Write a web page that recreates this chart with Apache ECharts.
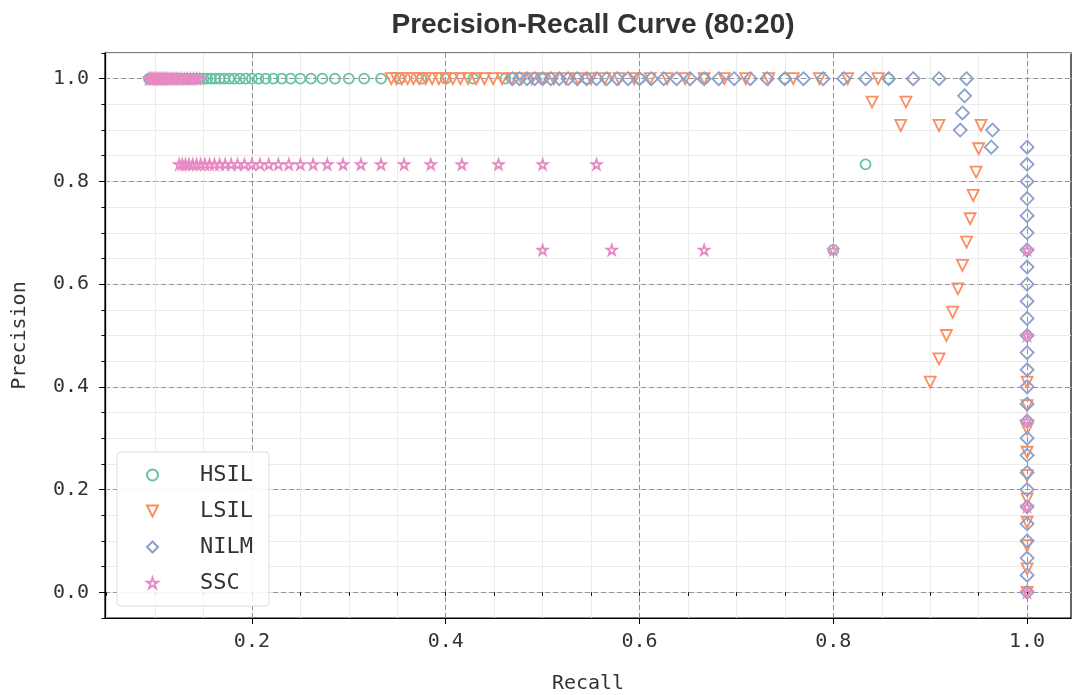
<!DOCTYPE html>
<html>
<head>
<meta charset="utf-8">
<title>Precision-Recall Curve (80:20)</title>
<script src="https://cdn.jsdelivr.net/npm/echarts@6/dist/echarts.min.js"></script>
<style>
  html, body { margin: 0; padding: 0; background: #ffffff; }
  #chart { width: 1083px; height: 695px; }
</style>
</head>
<body>
<div id="chart"></div>
<script>
// ---- class names and colours ----
const classNames = ['HSIL', 'LSIL', 'NILM', 'SSC'];
const classColors = ['#66c2a5', '#fc8d62', '#8da0cb', '#e78ac3'];

// ---- axis ticks ----
const xMajorTicks = [0.2, 0.4, 0.6, 0.8, 1.0];
const xMinorTicks = [0.05, 0.1, 0.15, 0.2, 0.25, 0.3, 0.35, 0.4, 0.45, 0.5, 0.55, 0.6, 0.65, 0.7, 0.75, 0.8, 0.85, 0.9, 0.95, 1.0];
const yMajorTicks = [0.0, 0.2, 0.4, 0.6, 0.8, 1.0];
const yMinorTicks = [-0.05, 0.0, 0.05, 0.1, 0.15, 0.2, 0.25, 0.3, 0.35, 0.4, 0.45, 0.5, 0.55, 0.6, 0.65, 0.7, 0.75, 0.8, 0.85, 0.9, 0.95, 1.0, 1.05];

// ---- HSIL ----
const hsilRecall = [
  0.8, 0.8333, 0.8571, 0.75, 0.6667, 0.6, 0.5455, 0.5, 0.4615, 0.4286, 0.4, 0.375,
  0.3529, 0.3333, 0.3158, 0.3, 0.2857, 0.2727, 0.2609, 0.25, 0.24, 0.2308, 0.2222,
  0.2143, 0.2069, 0.2, 0.1935, 0.1875, 0.1818, 0.1765, 0.1714, 0.1667, 0.1622, 0.1579,
  0.1538, 0.15, 0.1463, 0.1429, 0.1395, 0.1364, 0.1333, 0.1304, 0.1277, 0.125, 0.1224,
  0.12, 0.1176, 0.1154, 0.1132, 0.1111, 0.1091, 0.1071, 0.1053, 0.1034, 0.1017, 0.1,
  0.0984, 0.0968, 0.0952, 0.0938
];
const hsilPrecision = [
  0.6667, 0.8333, 1, 1, 1, 1, 1, 1, 1, 1, 1, 1,
  1, 1, 1, 1, 1, 1, 1, 1, 1, 1, 1,
  1, 1, 1, 1, 1, 1, 1, 1, 1, 1, 1,
  1, 1, 1, 1, 1, 1, 1, 1, 1, 1, 1,
  1, 1, 1, 1, 1, 1, 1, 1, 1, 1, 1,
  1, 1, 1, 1
];

// ---- LSIL ----
const lsilRecall = [
  1, 1, 1, 1, 1, 1, 1, 1, 1, 1,
  0.9, 0.9091, 0.9167, 0.9231, 0.9286, 0.9333, 0.9375, 0.9412, 0.9444, 0.9474, 0.95,
  0.9524, 0.9091, 0.8696, 0.875, 0.84,
  0.8462, 0.8148, 0.7857, 0.7586, 0.7333, 0.7097, 0.6875, 0.6667, 0.6471, 0.6286,
  0.6111, 0.5946, 0.5789, 0.5641, 0.55, 0.5366, 0.5238, 0.5116, 0.5, 0.4889, 0.4783,
  0.4681, 0.4583, 0.449, 0.44, 0.4314, 0.4231, 0.4151, 0.4074, 0.4, 0.3929, 0.386,
  0.3793, 0.3729, 0.3667, 0.3607, 0.3548, 0.3492, 0.3438
];
const lsilPrecision = [
  0, 0.0455, 0.0909, 0.1364, 0.1818, 0.2273, 0.2727, 0.3182, 0.3636, 0.4091,
  0.4091, 0.4545, 0.5, 0.5455, 0.5909, 0.6364, 0.6818, 0.7273, 0.7727, 0.8182, 0.8636,
  0.9091, 0.9091, 0.9091, 0.9545, 0.9545,
  1, 1, 1, 1, 1, 1, 1, 1, 1, 1,
  1, 1, 1, 1, 1, 1, 1, 1, 1, 1, 1,
  1, 1, 1, 1, 1, 1, 1, 1, 1, 1, 1,
  1, 1, 1, 1, 1, 1, 1
];

// ---- NILM ----
const nilmRecall = [
  1, 1, 1, 1, 1, 1, 1, 1, 1, 1, 1, 1, 1, 1, 1, 1, 1, 1, 1, 1, 1, 1, 1, 1, 1, 1, 1,
  0.963, 0.9643, 0.931, 0.9333, 0.9355, 0.9375,
  0.9091, 0.8824, 0.8571, 0.8333, 0.8108, 0.7895, 0.7692, 0.75, 0.7317, 0.7143,
  0.6977, 0.6818, 0.6667, 0.6522, 0.6383, 0.625, 0.6122, 0.6, 0.5882, 0.5769,
  0.566, 0.5556, 0.5455, 0.5357, 0.5263, 0.5172, 0.5085, 0.5, 0.4918, 0.4839,
  0.4762, 0.4688
];
const nilmPrecision = [
  0, 0.0333, 0.0667, 0.1, 0.1333, 0.1667, 0.2, 0.2333, 0.2667, 0.3, 0.3333, 0.3667,
  0.4, 0.4333, 0.4667, 0.5, 0.5333, 0.5667, 0.6, 0.6333, 0.6667, 0.7, 0.7333,
  0.7667, 0.8, 0.8333, 0.8667,
  0.8667, 0.9, 0.9, 0.9333, 0.9667, 1,
  1, 1, 1, 1, 1, 1, 1, 1, 1, 1,
  1, 1, 1, 1, 1, 1, 1, 1, 1, 1,
  1, 1, 1, 1, 1, 1, 1, 1, 1, 1,
  1, 1
];

// ---- SSC ----
const sscRecall = [
  1, 1, 1, 1, 1, 0.8, 0.6667, 0.5714, 0.5,
  0.5556, 0.5, 0.4545, 0.4167, 0.3846, 0.3571, 0.3333, 0.3125, 0.2941, 0.2778, 0.2632,
  0.25, 0.2381, 0.2273, 0.2174, 0.2083, 0.2, 0.1923, 0.1852, 0.1786, 0.1724, 0.1667,
  0.1613, 0.1563, 0.1515, 0.1471, 0.1429, 0.1389, 0.1351, 0.1316, 0.1282, 0.125,
  0.1463, 0.1429, 0.1395, 0.1364, 0.1333, 0.1304, 0.1277, 0.125, 0.1224, 0.12, 0.1176,
  0.1154, 0.1132, 0.1111, 0.1091, 0.1071, 0.1053, 0.1034, 0.1017, 0.1, 0.0984, 0.0968,
  0.0952, 0.0938
];
const sscPrecision = [
  0, 0.1667, 0.3333, 0.5, 0.6667, 0.6667, 0.6667, 0.6667, 0.6667,
  0.8333, 0.8333, 0.8333, 0.8333, 0.8333, 0.8333, 0.8333, 0.8333, 0.8333, 0.8333, 0.8333,
  0.8333, 0.8333, 0.8333, 0.8333, 0.8333, 0.8333, 0.8333, 0.8333, 0.8333, 0.8333, 0.8333,
  0.8333, 0.8333, 0.8333, 0.8333, 0.8333, 0.8333, 0.8333, 0.8333, 0.8333, 0.8333,
  1, 1, 1, 1, 1, 1, 1, 1, 1, 1, 1,
  1, 1, 1, 1, 1, 1, 1, 1, 1, 1, 1,
  1, 1
];

const recallSets = [hsilRecall, lsilRecall, nilmRecall, sscRecall];
const precisionSets = [hsilPrecision, lsilPrecision, nilmPrecision, sscPrecision];

// marker shapes: open circle, open down-triangle, open diamond, open star
const TRI_DOWN = 'path://M0,0L100,0L50,100Z';
const STAR = 'path://M50,0L61.23,34.55L97.55,34.55L68.17,55.9L79.39,90.45L50,69.1L20.61,90.45L31.83,55.9L2.45,34.55L38.77,34.55Z';
const markerSpecs = [
  { symbol: 'circle', size: 10 },
  { symbol: TRI_DOWN, size: 11 },
  { symbol: 'diamond', size: 13 },
  { symbol: STAR, size: 10 }
];

const MONO = "'DejaVu Sans Mono', 'Liberation Mono', monospace";
const X_MIN = 0.0484, X_MAX = 1.0453;
const Y_MIN = -0.05, Y_MAX = 1.05;

const chart = echarts.init(document.getElementById('chart'), null, { renderer: 'canvas' });

const series = classNames.map((name, k) => ({
  type: 'scatter',
  name: name,
  xAxisIndex: 1,
  yAxisIndex: 1,
  data: recallSets[k].map((r, i) => [r, precisionSets[k][i]]),
  symbol: markerSpecs[k].symbol,
  symbolSize: markerSpecs[k].size,
  itemStyle: {
    color: 'rgba(255,255,255,0)',
    borderColor: classColors[k],
    borderWidth: 1.8,
    opacity: 1
  },
  emphasis: { disabled: true },
  silent: true,
  z: 3 + k
}));

const option = {
  animation: false,
  backgroundColor: '#ffffff',
  title: {
    text: 'Precision-Recall Curve (80:20)',
    left: 588,
    textAlign: 'center',
    top: 6,
    textStyle: {
      fontFamily: "'Liberation Sans', Arial, sans-serif",
      fontWeight: 'bold',
      fontSize: 28,
      color: '#333333'
    }
  },
  grid: {
    left: 105, right: 12, top: 53, bottom: 77,
    outerBoundsMode: 'none',
    containLabel: false,
    show: true,
    borderColor: '#000000',
    borderWidth: 1.2,
    backgroundColor: 'rgba(0,0,0,0)'
  },
  legend: {
    orient: 'vertical',
    left: 117,
    top: 452,
    padding: [11, 16, 11, 29],
    itemGap: 12,
    itemWidth: 11,
    itemHeight: 11,
    backgroundColor: 'rgba(255,255,255,0.88)',
    borderColor: '#dddddd',
    borderWidth: 1,
    borderRadius: 4,
    data: classNames,
    textStyle: {
      fontFamily: MONO,
      fontSize: 22,
      color: '#333333',
      lineHeight: 24,
      padding: [0, 0, 0, 37]
    },
    selectedMode: false
  },
  xAxis: [
    {
      // fine grid every 0.05
      type: 'value', min: X_MIN, max: X_MAX, position: 'bottom',
      axisLine: { show: false },
      axisTick: { show: true, customValues: xMinorTicks, length: 3.5, lineStyle: { color: '#000', width: 1 } },
      axisLabel: { show: false },
      splitLine: { show: true, lineStyle: { color: '#ebebeb', width: 1 } }
    },
    {
      type: 'value', min: X_MIN, max: X_MAX, position: 'bottom',
      name: 'Recall', nameLocation: 'middle', nameGap: 56,
      nameTextStyle: { fontFamily: MONO, fontSize: 20, color: '#333333' },
      axisLine: { show: true, onZero: false, lineStyle: { color: '#000', width: 1.2 } },
      axisTick: { show: true, customValues: xMajorTicks, length: 6, lineStyle: { color: '#000', width: 1 } },
      axisLabel: {
        customValues: xMajorTicks, margin: 14,
        fontFamily: MONO, fontSize: 20, color: '#333333',
        formatter: v => v.toFixed(1)
      },
      splitLine: { show: true, lineStyle: { color: '#959595', width: 1, type: [5, 3] } }
    }
  ],
  yAxis: [
    {
      type: 'value', min: Y_MIN, max: Y_MAX, position: 'left',
      axisLine: { show: false },
      axisTick: { show: true, customValues: yMinorTicks, length: 3.5, lineStyle: { color: '#000', width: 1 } },
      axisLabel: { show: false },
      splitLine: { show: true, lineStyle: { color: '#ebebeb', width: 1 } }
    },
    {
      type: 'value', min: Y_MIN, max: Y_MAX, position: 'left',
      name: 'Precision', nameLocation: 'middle', nameGap: 75, nameRotate: 90,
      nameTextStyle: { fontFamily: MONO, fontSize: 20, color: '#333333' },
      axisLine: { show: true, onZero: false, lineStyle: { color: '#000', width: 1.2 } },
      axisTick: { show: true, customValues: yMajorTicks, length: 6, lineStyle: { color: '#000', width: 1 } },
      axisLabel: {
        customValues: yMajorTicks, margin: 16,
        fontFamily: MONO, fontSize: 20, color: '#333333',
        formatter: v => v.toFixed(1)
      },
      splitLine: { show: true, lineStyle: { color: '#959595', width: 1, type: [5, 3] } }
    }
  ],
  series: series
};

chart.setOption(option);
</script>
</body>
</html>
